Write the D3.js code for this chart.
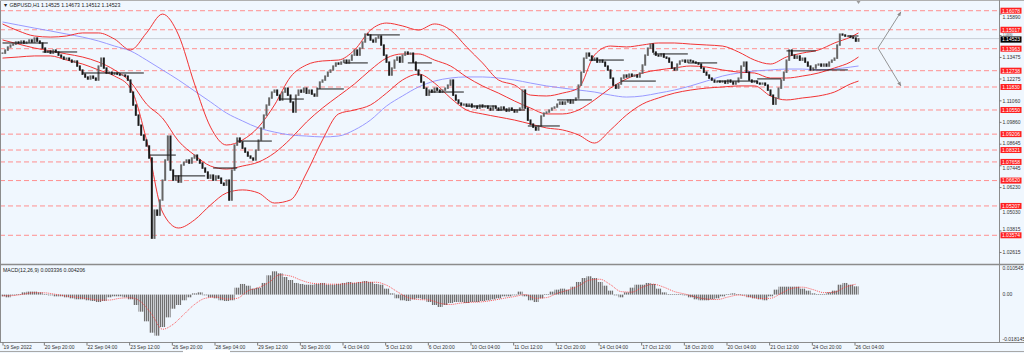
<!DOCTYPE html>
<html>
<head>
<meta charset="utf-8">
<script src="https://cdn.jsdelivr.net/npm/d3@7"></script>
<style>
html, body { margin: 0; padding: 0; background: #f0f7fe; }
svg { display: block; font-family: "Liberation Sans", Arial, sans-serif; }
</style>
</head>
<body>
<div id="chart"></div>
<script>
// GBPUSD H1, 2-hour closes (19 Sep - 26 Oct 2022)
const closes = [
  1.1372, 1.1389, 1.1406, 1.1417, 1.1422, 1.1434, 1.1428, 1.1439, 1.1428, 1.1434, 1.1445, 1.1434, 1.1456, 1.1439, 1.1428,
  1.1400, 1.1378, 1.1384, 1.1372, 1.1389, 1.1378, 1.1361, 1.1350, 1.1339, 1.1344, 1.1333, 1.1322, 1.1328, 1.1300, 1.1278,
  1.1255, 1.1239, 1.1228, 1.1244, 1.1233, 1.1222, 1.1300, 1.1344, 1.1289, 1.1261, 1.1266, 1.1255, 1.1261, 1.1255, 1.1250,
  1.1250, 1.1244, 1.1222, 1.1155, 1.1083, 1.1027, 1.0971, 1.0916, 1.0888, 1.0855, 1.0788, 1.0342, 1.0498, 1.0470, 1.0554,
  1.0665, 1.0777, 1.0910, 1.0721, 1.0665, 1.0688, 1.0654, 1.0749, 1.0765, 1.0777, 1.0760, 1.0788, 1.0804, 1.0777, 1.0760,
  1.0732, 1.0710, 1.0676, 1.0693, 1.0665, 1.0688, 1.0676, 1.0648, 1.0637, 1.0665, 1.0554, 1.0721, 1.0860, 1.0899, 1.0877,
  1.0843, 1.0821, 1.0799, 1.0788, 1.0777, 1.0832, 1.0888, 1.0955, 1.1027, 1.1083, 1.1122, 1.1155, 1.1166, 1.1138, 1.1111,
  1.1155, 1.1177, 1.1138, 1.1100, 1.1044, 1.1138, 1.1166, 1.1155, 1.1177, 1.1149, 1.1166, 1.1144, 1.1133, 1.1177, 1.1211,
  1.1222, 1.1244, 1.1266, 1.1278, 1.1300, 1.1317, 1.1311, 1.1322, 1.1333, 1.1317, 1.1333, 1.1361, 1.1389, 1.1361, 1.1400,
  1.1434, 1.1478, 1.1473, 1.1445, 1.1434, 1.1456, 1.1467, 1.1417, 1.1361, 1.1322, 1.1250, 1.1289, 1.1333, 1.1350, 1.1322,
  1.1361, 1.1378, 1.1367, 1.1372, 1.1322, 1.1278, 1.1250, 1.1211, 1.1177, 1.1138, 1.1166, 1.1155, 1.1177, 1.1166, 1.1155,
  1.1166, 1.1177, 1.1194, 1.1222, 1.1138, 1.1111, 1.1094, 1.1083, 1.1088, 1.1077, 1.1088, 1.1072, 1.1077, 1.1066, 1.1083,
  1.1072, 1.1077, 1.1066, 1.1055, 1.1077, 1.1066, 1.1055, 1.1072, 1.1061, 1.1049, 1.1066, 1.1055, 1.1044, 1.1055, 1.1066,
  1.1166, 1.1066, 1.0999, 1.0977, 1.0960, 1.0944, 1.0966, 1.1022, 1.1038, 1.1044, 1.1055, 1.1066, 1.1072, 1.1088, 1.1100,
  1.1088, 1.1100, 1.1111, 1.1094, 1.1111, 1.1122, 1.1194, 1.1266, 1.1344, 1.1372, 1.1356, 1.1333, 1.1344, 1.1322, 1.1333,
  1.1322, 1.1300, 1.1278, 1.1233, 1.1194, 1.1177, 1.1200, 1.1233, 1.1250, 1.1239, 1.1255, 1.1244, 1.1250, 1.1239, 1.1261,
  1.1306, 1.1361, 1.1400, 1.1422, 1.1378, 1.1361, 1.1356, 1.1367, 1.1350, 1.1344, 1.1322, 1.1289, 1.1278, 1.1311, 1.1328,
  1.1333, 1.1322, 1.1333, 1.1328, 1.1322, 1.1317, 1.1311, 1.1289, 1.1266, 1.1250, 1.1233, 1.1222, 1.1211, 1.1216, 1.1211,
  1.1216, 1.1205, 1.1222, 1.1211, 1.1200, 1.1211, 1.1233, 1.1300, 1.1322, 1.1266, 1.1222, 1.1211, 1.1216, 1.1205, 1.1200,
  1.1205, 1.1194, 1.1166, 1.1138, 1.1088, 1.1122, 1.1177, 1.1222, 1.1266, 1.1333, 1.1389, 1.1361, 1.1344, 1.1356, 1.1333,
  1.1344, 1.1322, 1.1300, 1.1278, 1.1289, 1.1306, 1.1311, 1.1300, 1.1311, 1.1300, 1.1322, 1.1333, 1.1344, 1.1417, 1.1478,
  1.1473, 1.1467, 1.1467, 1.1461, 1.1456, 1.1439, 1.14523
];

// bollinger band + moving average, sampled every 6 bars (last one at the final bar)
const bbUpper = [
  1.1534, 1.1495, 1.1467, 1.1461, 1.1467, 1.1484, 1.1484, 1.1450, 1.1389, 1.1484, 1.1589, 1.1473, 1.1200, 1.0960, 1.0860,
  1.0888, 1.0960, 1.1083, 1.1239, 1.1306, 1.1328, 1.1333, 1.1389, 1.1500, 1.1539, 1.1523, 1.1500, 1.1534, 1.1500, 1.1406,
  1.1317, 1.1222, 1.1194, 1.1138, 1.1133, 1.1149, 1.1177, 1.1361, 1.1411, 1.1406, 1.1417, 1.1428, 1.1428, 1.1422, 1.1417,
  1.1411, 1.1378, 1.1333, 1.1311, 1.1350, 1.1372, 1.1389, 1.1428, 1.1461, 1.1484
];
const bbMiddle = [
  1.1445, 1.1422, 1.1400, 1.1384, 1.1367, 1.1350, 1.1322, 1.1278, 1.1211, 1.1088, 1.1010, 1.0882, 1.0804, 1.0743, 1.0726,
  1.0743, 1.0765, 1.0816, 1.0894, 1.0988, 1.1066, 1.1133, 1.1200, 1.1278, 1.1344, 1.1367, 1.1367, 1.1333, 1.1300, 1.1239,
  1.1189, 1.1149, 1.1105, 1.1066, 1.1033, 1.1033, 1.1055, 1.1111, 1.1177, 1.1228, 1.1261, 1.1278, 1.1289, 1.1300, 1.1294,
  1.1278, 1.1266, 1.1261, 1.1233, 1.1233, 1.1244, 1.1261, 1.1289, 1.1322, 1.1350
];
const bbLower = [
  1.1344, 1.1350, 1.1356, 1.1356, 1.1333, 1.1311, 1.1278, 1.1244, 1.1177, 1.0888, 1.0487, 1.0398, 1.0443, 1.0526, 1.0593,
  1.0610, 1.0593, 1.0537, 1.0554, 1.0704, 1.0888, 1.1033, 1.1055, 1.1083, 1.1149, 1.1222, 1.1255, 1.1205, 1.1122, 1.1055,
  1.1033, 1.1016, 1.0999, 1.0977, 1.0955, 1.0944, 1.0916, 1.0871, 1.0944, 1.1027, 1.1088, 1.1122, 1.1149, 1.1166, 1.1177,
  1.1183, 1.1189, 1.1189, 1.1133, 1.1111, 1.1122, 1.1133, 1.1155, 1.1200, 1.1216
];
const maSlow = [
  1.1545, 1.1528, 1.1511, 1.1495, 1.1478, 1.1461, 1.1439, 1.1411, 1.1384, 1.1333, 1.1278, 1.1222, 1.1161, 1.1100, 1.1038,
  1.0994, 1.0955, 1.0932, 1.0916, 1.0910, 1.0905, 1.0910, 1.0944, 1.0999, 1.1077, 1.1133, 1.1183, 1.1216, 1.1233, 1.1239,
  1.1239, 1.1233, 1.1222, 1.1205, 1.1189, 1.1177, 1.1166, 1.1155, 1.1138, 1.1127, 1.1133, 1.1149, 1.1166, 1.1189, 1.1216,
  1.1244, 1.1261, 1.1272, 1.1278, 1.1283, 1.1283, 1.1278, 1.1283, 1.1294, 1.1300
];

// MACD(12,26,9): histogram every 4 hours, signal every 8 hours
const macdHist = [
  -0.0007, -0.0011, -0.0003, 0.0001, 0.0009, 0.0012, 0.0012, 0.0009, 0.0001, -0.0003,
  -0.0007, -0.0007, -0.0011, -0.0015, -0.0019, -0.0019, -0.0023, -0.0026, -0.0030, -0.0026,
  -0.0011, -0.0007, -0.0007, -0.0011, -0.0019, -0.0042, -0.0069, -0.0108, -0.0154, -0.0166,
  -0.0131, -0.0092, -0.0057, -0.0042, -0.0023, -0.0011, 0.0005, 0.0009, -0.0003, -0.0011,
  -0.0015, -0.0023, -0.0026, -0.0023, 0.0028, 0.0043, 0.0036, 0.0024, 0.0028, 0.0047,
  0.0078, 0.0094, 0.0086, 0.0071, 0.0059, 0.0047, 0.0043, 0.0040, 0.0040, 0.0043,
  0.0047, 0.0040, 0.0040, 0.0043, 0.0047, 0.0051, 0.0047, 0.0051, 0.0055, 0.0051,
  0.0043, 0.0040, 0.0024, 0.0005, -0.0015, -0.0023, -0.0026, -0.0019, -0.0015, -0.0019,
  -0.0030, -0.0042, -0.0050, -0.0042, -0.0034, -0.0030, -0.0030, -0.0034, -0.0030, -0.0030,
  -0.0026, -0.0023, -0.0019, -0.0015, -0.0007, -0.0007, -0.0003, 0.0012, -0.0007, -0.0023,
  -0.0030, -0.0015, 0.0001, 0.0012, 0.0020, 0.0024, 0.0020, 0.0032, 0.0051, 0.0067,
  0.0074, 0.0067, 0.0051, 0.0036, 0.0016, -0.0003, -0.0011, 0.0009, 0.0028, 0.0040,
  0.0040, 0.0047, 0.0043, 0.0024, 0.0009, 0.0001, 0.0001, 0.0001, -0.0003, -0.0011,
  -0.0019, -0.0023, -0.0023, -0.0019, -0.0015, -0.0007, 0.0001, 0.0005, 0.0001, -0.0003,
  -0.0011, -0.0015, -0.0019, -0.0023, -0.0007, 0.0020, 0.0032, 0.0032, 0.0032, 0.0032,
  0.0024, 0.0016, 0.0005, 0.0001, 0.0001, 0.0009, 0.0016, 0.0040, 0.0047, 0.0040, 0.003336
];
const macdSignal = [
  -0.0005, -0.0004, 0.0002, 0.0008, 0.0007, 0.0001, -0.0006, -0.0011, -0.0016, -0.0022,
  -0.0022, -0.0015, -0.0013, -0.0030, -0.0080, -0.0140, -0.0120, -0.0080, -0.0040, -0.0015,
  -0.0010, -0.0018, -0.0015, 0.0015, 0.0028, 0.0050, 0.0080, 0.0075, 0.0058, 0.0046,
  0.0043, 0.0042, 0.0043, 0.0047, 0.0050, 0.0050, 0.0038, 0.0012, -0.0012, -0.0020,
  -0.0022, -0.0035, -0.0040, -0.0034, -0.0031, -0.0029, -0.0023, -0.0015, -0.0008, 0.0000,
  -0.0015, -0.0012, 0.0005, 0.0018, 0.0035, 0.0058, 0.0062, 0.0040, 0.0012, 0.0010,
  0.0030, 0.0042, 0.0030, 0.0012, 0.0002, -0.0010, -0.0018, -0.0020, -0.0010, -0.0002,
  -0.0008, -0.0016, -0.0015, 0.0005, 0.0025, 0.0030, 0.0020, 0.0008, 0.0010, 0.0030, 0.004206
];

// horizontal support / resistance levels
const levels = [1.16078, 1.15017, 1.13963, 1.12738, 1.11830, 1.10550, 1.09206, 1.08321, 1.07658, 1.06620, 1.05207, 1.03574];
const priceTicks = [1.15890, 1.14690, 1.13475, 1.12275, 1.11060, 1.09860, 1.08645, 1.07445, 1.06230, 1.05030, 1.03815, 1.02615];
const macdTicks = [0.010545, 0.00, -0.018145];
const currentPrice = 1.14523;

// daily marker segments: start bar, end bar, price
const segStart = [0, 15, 30, 55, 64, 79, 88, 104, 118, 128, 137, 152, 160, 174, 185, 197, 208, 220, 232, 244, 257, 268, 283, 294, 304, 317];
const segEnd   = [17, 28, 53, 65, 76, 88, 101, 113, 128, 137, 149, 161, 173, 185, 196, 209, 221, 233, 245, 257, 268, 283, 292, 305, 317, 321];
const segLevel = [1.1428, 1.1378, 1.1261, 1.0804, 1.0688, 1.0732, 1.0882, 1.1116, 1.1172, 1.1317, 1.1473, 1.1317, 1.1155,
                  1.1077, 1.1055, 1.0966, 1.1111, 1.1333, 1.1216, 1.1367, 1.1317, 1.1216, 1.1228, 1.1384, 1.1278, 1.1467];

// projection arrows drawn on the chart (bar position, price)
const arrowFrom = [328.3, 1.1400];
const arrowTo = [[336.9, 1.1601], [336.9, 1.1189]];

const dateLabels = ["19 Sep 2022", "20 Sep 20:00", "22 Sep 04:00", "23 Sep 12:00", "26 Sep 20:00", "28 Sep 04:00",
  "29 Sep 12:00", "30 Sep 20:00", "4 Oct 04:00", "5 Oct 12:00", "6 Oct 20:00", "10 Oct 04:00", "11 Oct 12:00",
  "12 Oct 20:00", "14 Oct 04:00", "17 Oct 12:00", "18 Oct 20:00", "20 Oct 04:00", "21 Oct 12:00", "24 Oct 20:00",
  "26 Oct 04:00"];

const W = 1024, H = 353;
const plotRight = 999.5, mainBottom = 264.5, macdBottom = 342.5;
const bg = "#f0f7fe";

const svg = d3.select("#chart").append("svg")
    .attr("width", W)
    .attr("height", H);

svg.append("rect").attr("width", W).attr("height", H).attr("fill", bg);

const x = d3.scaleLinear().domain([0, closes.length - 1]).range([2.5, 858.5]);
const y = d3.scaleLinear().domain([1.01975, 1.16674]).range([264, 0]);
const yM = d3.scaleLinear().domain([-0.018145, 0.010545]).range([339.5, 268.5]);
const step = x(1) - x(0);

const defs = svg.append("defs");
defs.append("clipPath").attr("id", "mainClip")
    .append("rect").attr("x", 0).attr("y", 0).attr("width", plotRight).attr("height", mainBottom);
defs.append("clipPath").attr("id", "macdClip")
    .append("rect").attr("x", 0).attr("y", mainBottom + 1).attr("width", plotRight).attr("height", macdBottom - mainBottom - 1);
defs.append("marker").attr("id", "arrowHead")
    .attr("viewBox", "0 0 10 10").attr("refX", 9).attr("refY", 5)
    .attr("markerWidth", 5).attr("markerHeight", 5).attr("orient", "auto")
    .append("path").attr("d", "M0,1 L10,5 L0,9 z").attr("fill", "#8a8a8a");
// fine vertical hatch, like the 1px histogram bars of the original
const hatch = defs.append("pattern").attr("id", "hatch")
    .attr("patternUnits", "userSpaceOnUse")
    .attr("width", 2).attr("height", 4);
hatch.append("rect").attr("width", 2).attr("height", 4).attr("fill", "#c9ccd1");
hatch.append("rect").attr("width", 1).attr("height", 4).attr("fill", "#707070");

const main = svg.append("g").attr("clip-path", "url(#mainClip)");

// current price line
main.append("line")
    .attr("x1", 0).attr("x2", plotRight)
    .attr("y1", y(currentPrice)).attr("y2", y(currentPrice))
    .attr("stroke", "#c9ced6").attr("stroke-width", 1);

// dashed levels
main.append("g").selectAll("line")
    .data(levels)
    .join("line")
    .attr("x1", 0).attr("x2", plotRight)
    .attr("y1", d => y(d)).attr("y2", d => y(d))
    .attr("stroke", "#ff8f8f")
    .attr("stroke-width", 1)
    .attr("stroke-dasharray", "5,3");

// moving average + bands
const bandIdx = d3.range(0, 319, 6).concat([closes.length - 1]);
const bandLine = d3.line()
    .x((d, i) => x(bandIdx[i]))
    .y(d => y(d))
    .curve(d3.curveMonotoneX);

main.append("path").attr("d", bandLine(maSlow))
    .attr("fill", "none").attr("stroke", "#8f8fff").attr("stroke-width", 0.9);

[bbUpper, bbMiddle, bbLower].forEach(s => {
    main.append("path").attr("d", bandLine(s))
        .attr("fill", "none").attr("stroke", "#f21d1d").attr("stroke-width", 0.9);
});

// candles: open = previous close
const openOf = i => i ? closes[i - 1] : closes[i];
main.append("g").selectAll("rect")
    .data(closes)
    .join("rect")
    .attr("x", (d, i) => x(i) - 1)
    .attr("width", 2)
    .attr("y", (d, i) => y(Math.max(d, openOf(i))) - 0.6)
    .attr("height", (d, i) => Math.abs(y(d) - y(openOf(i))) + 1.4)
    .attr("fill", (d, i) => d >= openOf(i) ? "#666" : "#1a1a1a");

// daily segments
main.append("g").selectAll("line")
    .data(segLevel)
    .join("line")
    .attr("x1", (d, i) => x(segStart[i]))
    .attr("x2", (d, i) => x(segEnd[i]))
    .attr("y1", d => y(d)).attr("y2", d => y(d))
    .attr("stroke", "#1a1a1a").attr("stroke-width", 1);

// projection arrows
main.append("g").selectAll("line")
    .data(arrowTo)
    .join("line")
    .attr("x1", x(arrowFrom[0])).attr("y1", y(arrowFrom[1]))
    .attr("x2", d => x(d[0])).attr("y2", d => y(d[1]))
    .attr("stroke", "#8a8a8a").attr("stroke-width", 0.9)
    .attr("marker-end", "url(#arrowHead)");

// chart shift marker
svg.append("path")
    .attr("d", `M${x(closes.length - 1) - 2},1 L${x(closes.length - 1) + 2},1 L${x(closes.length - 1)},4 z`)
    .attr("fill", "#9a9a9a");

// MACD panel
const macd = svg.append("g").attr("clip-path", "url(#macdClip)");
macd.append("g").selectAll("rect")
    .data(macdHist)
    .join("rect")
    .attr("x", (d, i) => x(i * 2) - step)
    .attr("width", step * 2 + 0.1)
    .attr("y", d => Math.min(yM(d), yM(0)))
    .attr("height", d => Math.max(0.6, Math.abs(yM(d) - yM(0))))
    .attr("fill", "url(#hatch)");

macd.append("path")
    .attr("d", d3.line().x((d, i) => x(i * 4)).y(d => yM(d)).curve(d3.curveMonotoneX)(macdSignal))
    .attr("fill", "none").attr("stroke", "#ff3030").attr("stroke-width", 0.8)
    .attr("stroke-dasharray", "1,1");

// frames
const frame = svg.append("g").attr("stroke", "#8c8c8c").attr("fill", "none");
frame.append("line").attr("x1", 0.5).attr("x2", 0.5).attr("y1", 0).attr("y2", macdBottom);
frame.append("line").attr("x1", 0).attr("x2", W).attr("y1", 0.5).attr("y2", 0.5).attr("stroke", "#b0b0b0");
frame.append("line").attr("x1", plotRight).attr("x2", plotRight).attr("y1", 0).attr("y2", macdBottom);
frame.append("line").attr("x1", 0).attr("x2", W).attr("y1", mainBottom).attr("y2", mainBottom).attr("stroke-width", 1.3);
frame.append("line").attr("x1", 0).attr("x2", W).attr("y1", macdBottom).attr("y2", macdBottom);
frame.append("line").attr("x1", 0).attr("x2", W).attr("y1", 351.5).attr("y2", 351.5).attr("stroke", "#a8a8a8");
svg.append("rect").attr("x", 183).attr("y", 350).attr("width", 47).attr("height", 3).attr("fill", "#ffffff");

// price axis: grey ticks, nudged clear of the level boxes where there is room
const boxTop = -3, boxH = 6;
const curTop = -2.2;
const boxY = levels.concat([currentPrice]).map(d => y(d));
const clear = t => boxY.every(b => Math.abs(t - b) >= 6.4);
const tickY = d => {
    const t = y(d);
    if (clear(t)) return t;
    const hit = boxY.find(b => Math.abs(t - b) < 6.4);
    const a = hit + (t >= hit ? 6.4 : -6.4), b = hit + (t >= hit ? -6.4 : 6.4);
    if (clear(a)) return a;
    if (clear(b)) return b;
    return null;
};
const axis = svg.append("g").attr("font-size", 5).attr("fill", "#333");
// a tick squeezed between two boxes is shown small in the gap left above the price box
axis.selectAll("text.tick")
    .data(priceTicks)
    .join("text")
    .attr("class", "tick")
    .attr("x", d => tickY(d) === null ? 1003 : 1002.5)
    .attr("y", d => tickY(d) === null ? y(currentPrice) + curTop - 0.3 : tickY(d) + 1.8)
    .attr("font-size", d => tickY(d) === null ? 2.6 : 5)
    .text(d => d.toFixed(5));
axis.selectAll("line.tk")
    .data(priceTicks)
    .join("line")
    .attr("class", "tk")
    .attr("x1", plotRight).attr("x2", plotRight + 2)
    .attr("y1", d => y(d)).attr("y2", d => y(d))
    .attr("stroke", "#777");

const lvl = svg.append("g").selectAll("g")
    .data(levels)
    .join("g")
    .attr("transform", d => `translate(1000.5, ${y(d)})`);
lvl.append("rect").attr("x", 0).attr("y", boxTop).attr("width", 21).attr("height", boxH).attr("fill", "#ff2020");
lvl.append("text").attr("x", 10.5).attr("y", 1.8).attr("text-anchor", "middle")
    .attr("font-size", 5).attr("fill", "#fff").text(d => d.toFixed(5));

const cur = svg.append("g").attr("transform", `translate(1000.5, ${y(currentPrice)})`);
cur.append("rect").attr("x", 0).attr("y", curTop).attr("width", 21).attr("height", 6.2).attr("fill", "#000");
cur.append("text").attr("x", 10.5).attr("y", 2.6).attr("text-anchor", "middle")
    .attr("font-size", 5).attr("fill", "#fff").text(currentPrice.toFixed(5));

// MACD axis labels
svg.append("g").attr("font-size", 5).attr("fill", "#333")
    .selectAll("text")
    .data(macdTicks)
    .join("text")
    .attr("x", 1002.5)
    .attr("y", d => yM(d) + 1.8)
    .text(d => d === 0 ? "0.00" : d.toFixed(6));

// time axis
const dateIdx = dateLabels.map((d, k) => k === 0 ? 0 : 15.5 + 16 * (k - 1));
const tAxis = svg.append("g").attr("font-size", 5).attr("fill", "#333");
tAxis.selectAll("line")
    .data(dateIdx)
    .join("line")
    .attr("x1", d => x(d) + 0.5).attr("x2", d => x(d) + 0.5)
    .attr("y1", macdBottom).attr("y2", macdBottom + 3)
    .attr("stroke", "#777");
tAxis.selectAll("text")
    .data(dateLabels)
    .join("text")
    .attr("x", (d, i) => x(dateIdx[i]) + 1)
    .attr("y", 348.5)
    .text(d => d);

// titles
svg.append("text").attr("x", 3).attr("y", 6.8).attr("font-size", 5.2).attr("fill", "#222")
    .text("\u25BC GBPUSD,H1  1.14525 1.14673 1.14512 1.14523");
svg.append("text").attr("x", 3).attr("y", 272).attr("font-size", 5.2).attr("fill", "#222")
    .text("MACD(12,26,9) 0.003336 0.004206");
</script>
</body>
</html>
